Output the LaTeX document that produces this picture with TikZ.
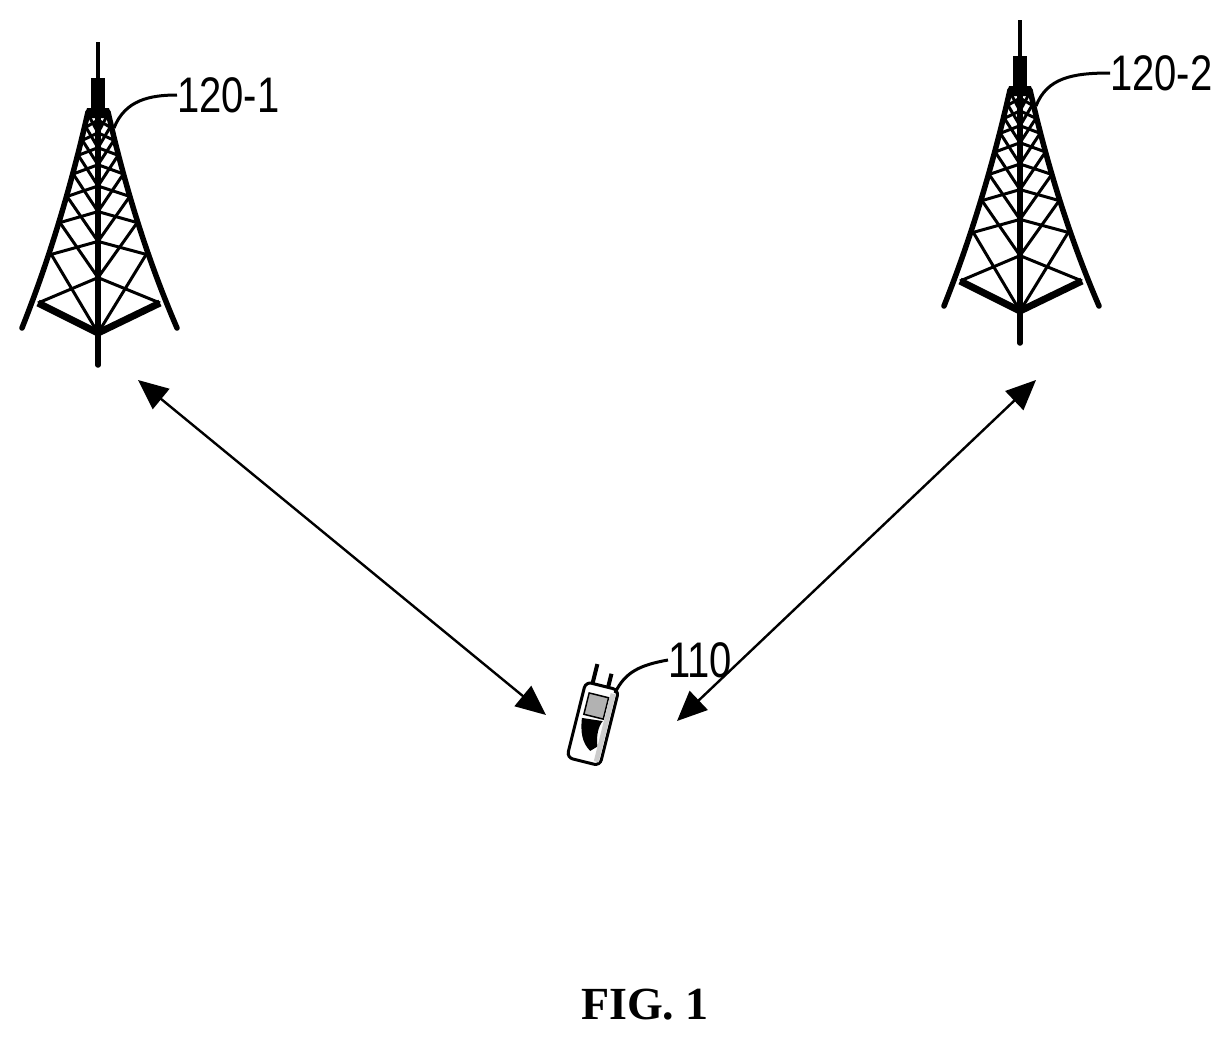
\documentclass[tikz,border=0pt]{standalone}
\usepackage{fontspec}
\setmainfont{Liberation Sans}
\newfontfamily\figfont{Liberation Serif}
\usetikzlibrary{calc,arrows.meta}
\begin{document}
\begin{tikzpicture}[x=1pt,y=-1pt,
  leg/.style={line width=5.5pt,line cap=round},
  lat/.style={line width=3pt},
  conn/.style={line width=2.4pt,{Triangle[length=30pt,width=26pt]}-{Triangle[length=30pt,width=26pt]}},
  lbl/.style={font=\fontsize{50}{50}\selectfont,xscale=0.8,inner sep=0pt},
  lead/.style={line width=3pt}]
\useasboundingbox (0,0) rectangle (1232,1042);
\newcommand{\mytower}[1]{%
\begin{scope}[shift={#1}]
 \coordinate (LT) at (89,116); \coordinate (LB) at (38,303);
 \coordinate (CT) at (98,120); \coordinate (CB) at (98,333);
 \coordinate (RT) at (107,116); \coordinate (RB) at (160,303);
 \draw[line width=3.5pt] (98,42) -- (98,80);
 \fill (91,78) rectangle (105,114);
 \fill (87,108) -- (109,108) -- (111,118) -- (85,118) -- cycle;
 \draw[leg] (88,112) .. controls (68,200) and (45,270) .. (22,328);
 \draw[leg] (108,112) .. controls (128,200) and (152,270) .. (177,328);
 \draw[leg] (98,112) -- (98,365);
 \draw[line width=7pt] (LB) -- (CB) -- (RB);
 \foreach \a/\b in {0/0.06,0.06/0.13,0.13/0.21,0.21/0.31,0.31/0.43,0.43/0.57,0.57/0.74,0.74/1}{
   \draw[lat] ($(LT)!\a!(LB)$) -- ($(CT)!\b!(CB)$);
   \draw[lat] ($(CT)!\a!(CB)$) -- ($(LT)!\b!(LB)$);
   \draw[lat] ($(RT)!\a!(RB)$) -- ($(CT)!\b!(CB)$);
   \draw[lat] ($(CT)!\a!(CB)$) -- ($(RT)!\b!(RB)$);
 }
\end{scope}}
\mytower{(0,0)}
\mytower{(922,-22)}
% labels
\node[lbl,anchor=west] (t1) at (177,95) {120-1};
\node[lbl,anchor=west] (t2) at (1110,73) {120-2};
\coordinate (t1p) at (114,128);
\coordinate (t2p) at (1036,106);
\draw[lead] (t1p) .. controls (125,100) and (150,95) .. (t1.west);
\draw[lead] (t2p) .. controls (1047,78) and (1072,73) .. (t2.west);
% phone
\begin{scope}[shift={(595,715)},rotate=-14]
 \draw[line width=3pt,rounded corners=6pt,fill=white] (-17,-30) rectangle (17,48);
 \draw[line width=4pt] (-10,-30) -- (-10,-50);
 \draw[line width=4pt] (6,-30) -- (6,-44);
 \fill[gray!60] (-11,-20) rectangle (9,2);
 \draw[line width=1.5pt] (-11,-20) rectangle (9,2);
 \fill[black] (-12,6) .. controls (-10,20) and (-6,30) .. (4,36) -- (10,30) .. controls (6,20) and (6,10) .. (9,4) -- cycle;
 \fill[gray!40] (10,-25) rectangle (15,45);
\end{scope}
\coordinate (php) at (615,693);
\node[lbl,anchor=west] (l110) at (668,660) {110};
\draw[lead] (php) .. controls (625,672) and (640,665) .. (l110.west);
% connectors
\coordinate (a1) at (138,380);
\coordinate (a2) at (546,715);
\coordinate (b1) at (1036,380);
\coordinate (b2) at (677,721);
\draw[conn] (a1) -- (a2);
\draw[conn] (b1) -- (b2);
\node[font=\figfont\bfseries\fontsize{46}{46}\selectfont] (fig) at (645,1005) {FIG. 1};
\end{tikzpicture}
\end{document}
